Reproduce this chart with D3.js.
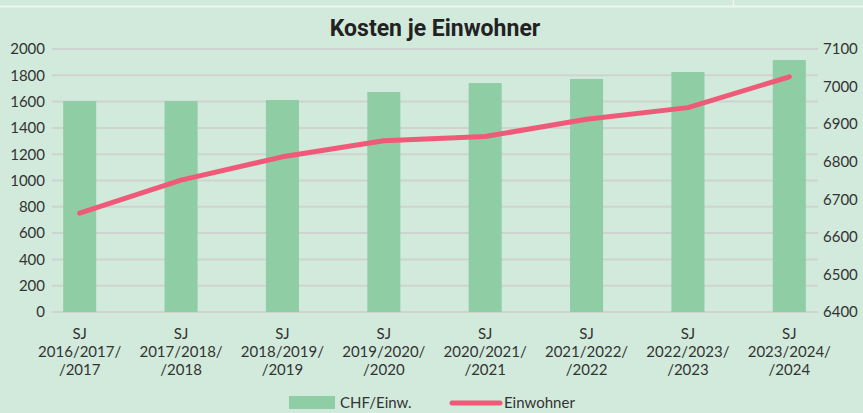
<!DOCTYPE html>
<html><head><meta charset="utf-8">
<script src="https://cdn.jsdelivr.net/npm/d3@7"></script>
<style>
html,body{margin:0;padding:0;background:#d1eadb;}
svg{display:block;}
</style></head>
<body>
<svg id="c" width="863" height="413"></svg>
<script>
const categories = [
  ["SJ","2016/2017/","/2017"],
  ["SJ","2017/2018/","/2018"],
  ["SJ","2018/2019/","/2019"],
  ["SJ","2019/2020/","/2020"],
  ["SJ","2020/2021/","/2021"],
  ["SJ","2021/2022/","/2022"],
  ["SJ","2022/2023/","/2023"],
  ["SJ","2023/2024/","/2024"]
];
const chfPerEinw = [1604, 1604, 1612, 1673, 1741, 1772, 1825, 1916];
const einwohner = [6663, 6751, 6813, 6856, 6867, 6913, 6944, 7026];
const leftTicks = [0,200,400,600,800,1000,1200,1400,1600,1800,2000];
const rightTicks = [6400,6500,6600,6700,6800,6900,7000,7100];
const title = "Kosten je Einwohner";
const legendLabels = ["CHF/Einw.", "Einwohner"];

const svg = d3.select("#c");
const W = 863, H = 413;
const bg = "#d1eadb", barColor = "#8fcea4", lineColor = "#ef5a78", gridColor = "#cfd3cf", textColor = "#333";
const font = "Lato, 'Noto Sans', sans-serif";

svg.append("rect").attr("width", W).attr("height", H).attr("fill", bg);
// decorative top lines
svg.append("line").attr("x1",0).attr("x2",W).attr("y1",6.5).attr("y2",6.5).attr("stroke","#eef6f0").attr("stroke-width",2);
svg.append("line").attr("x1",733.5).attr("x2",733.5).attr("y1",0).attr("y2",6).attr("stroke","#eef6f0").attr("stroke-width",1.5);

const plotTop = 49, plotBottom = 312, gridL = 52, gridR = 818;
const keys = categories.map((d,i)=>i);
const x = d3.scaleBand().domain(keys).range([29, 840]).paddingInner(0.674).paddingOuter(0.337);
const yL = d3.scaleLinear().domain([0, 2000]).range([plotBottom, plotTop]);
const yR = d3.scaleLinear().domain([6400, 7100]).range([plotBottom, plotTop]);

// gridlines
svg.append("g").selectAll("line").data(leftTicks).join("line")
  .attr("x1", gridL).attr("x2", gridR)
  .attr("y1", d=>yL(d)).attr("y2", d=>yL(d))
  .attr("stroke", gridColor).attr("stroke-width", 2);

// left axis
const axL = svg.append("g").attr("transform", `translate(${gridL},0)`)
  .call(d3.axisLeft(yL).tickValues(leftTicks).tickSize(0).tickPadding(7).tickFormat(d3.format("d")));
axL.select(".domain").remove();
axL.selectAll("text").attr("font-family", font).attr("font-size", 15).attr("fill", textColor);

// right axis
const axR = svg.append("g").attr("transform", `translate(${gridR},0)`)
  .call(d3.axisRight(yR).tickValues(rightTicks).tickSize(0).tickPadding(5).tickFormat(d3.format("d")));
axR.select(".domain").remove();
axR.selectAll("text").attr("font-family", font).attr("font-size", 15).attr("fill", textColor);

// bars
svg.append("g").selectAll("rect").data(chfPerEinw).join("rect")
  .attr("x", (d,i)=>x(i)).attr("width", x.bandwidth())
  .attr("y", d=>yL(d)).attr("height", d=>yL(0)-yL(d))
  .attr("fill", barColor);

// line
const line = d3.line().x((d,i)=>x(i)+x.bandwidth()/2).y(d=>yR(d));
svg.append("path").datum(einwohner).attr("d", line)
  .attr("fill","none").attr("stroke", lineColor).attr("stroke-width", 5)
  .attr("stroke-linecap","round").attr("stroke-linejoin","round");

// x labels
const xl = svg.append("g").selectAll("text").data(categories).join("text")
  .attr("text-anchor","middle")
  .attr("font-family", font).attr("font-size", 15).attr("fill", textColor);
xl.each(function(d,i){
  const t = d3.select(this);
  d.forEach((s,j)=>{
    t.append("tspan").attr("x", x(i)+x.bandwidth()/2).attr("y", 339 + j*18).text(s);
  });
});

// title
svg.append("text").attr("x", 435).attr("y", 36).attr("text-anchor","middle")
  .attr("font-family", "'Liberation Sans Narrow', 'Arial Narrow', 'Roboto', sans-serif")
  .attr("font-weight","bold").attr("font-size", 23).attr("fill", "#222").text(title);

// legend
svg.append("rect").attr("x", 289).attr("y", 396).attr("width", 46).attr("height", 13).attr("fill", barColor);
svg.append("text").attr("x", 340).attr("y", 408).attr("font-family", font).attr("font-size", 15).attr("fill", textColor).text(legendLabels[0]);
svg.append("line").attr("x1", 452).attr("x2", 500).attr("y1", 403).attr("y2", 403)
  .attr("stroke", lineColor).attr("stroke-width", 5).attr("stroke-linecap","round");
svg.append("text").attr("x", 504).attr("y", 408).attr("font-family", font).attr("font-size", 15).attr("fill", textColor).text(legendLabels[1]);
</script>
</body></html>
